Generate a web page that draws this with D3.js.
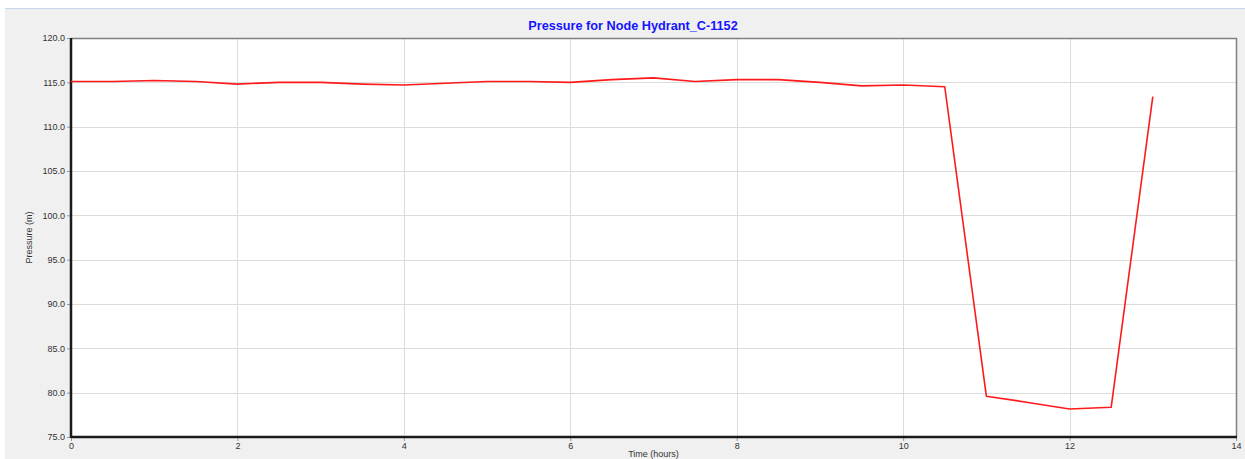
<!DOCTYPE html>
<html>
<head>
<meta charset="utf-8">
<script src="https://cdn.jsdelivr.net/npm/d3@7"></script>
<style>
  html, body { margin: 0; padding: 0; background: #ffffff; }
  svg { display: block; font-family: "Liberation Sans", Arial, sans-serif; }
</style>
</head>
<body>
<svg id="chart" width="1245" height="459"></svg>
<script>
// Hydrant pressure over the simulation period (half-hour steps)
const timeHours = [0, 0.5, 1, 1.5, 2, 2.5, 3, 3.5, 4, 4.5, 5, 5.5, 6, 6.5, 7, 7.5, 8, 8.5, 9, 9.5, 10, 10.5, 11, 11.5, 12, 12.5, 13];
const pressureM = [115.1, 115.1, 115.2, 115.1, 114.8, 115.0, 115.0, 114.8, 114.7, 114.9, 115.1, 115.1, 115.0, 115.3, 115.5, 115.1, 115.3, 115.3, 115.0, 114.6, 114.7, 114.5, 79.6, 78.9, 78.15, 78.35, 113.4];
const xTicks = [0, 2, 4, 6, 8, 10, 12, 14];
const yTicks = [75, 80, 85, 90, 95, 100, 105, 110, 115, 120];
const chartTitle = "Pressure for Node Hydrant_C-1152";
const xLabel = "Time (hours)";
const yLabel = "Pressure (m)";

const svg = d3.select("#chart");
const W = 1245, H = 459;
const plot = { left: 71, right: 1236, top: 38, bottom: 437 };

// window panel background
svg.append("rect").attr("x", 0).attr("y", 0).attr("width", W).attr("height", H).attr("fill", "#ffffff");
svg.append("rect").attr("x", 5).attr("y", 9).attr("width", W - 5).attr("height", H - 9).attr("fill", "#f0f0f0");
svg.append("line").attr("x1", 5).attr("x2", W).attr("y1", 8.5).attr("y2", 8.5)
  .attr("stroke", "#c4d8ee").attr("stroke-width", 1);

const x = d3.scaleLinear().domain([0, 14]).range([plot.left, plot.right]);
const y = d3.scaleLinear().domain([75, 120]).range([plot.bottom, plot.top]);

// plot area
svg.append("rect")
  .attr("x", plot.left).attr("y", plot.top)
  .attr("width", plot.right - plot.left).attr("height", plot.bottom - plot.top)
  .attr("fill", "#ffffff");

// grid
const grid = svg.append("g").attr("stroke", "#dcdcdc").attr("stroke-width", 1);
grid.selectAll("line.v").data(xTicks.slice(1, -1)).join("line")
  .attr("x1", d => Math.round(x(d)) + 0.5).attr("x2", d => Math.round(x(d)) + 0.5)
  .attr("y1", plot.top).attr("y2", plot.bottom);
grid.selectAll("line.h").data(yTicks.slice(1, -1)).join("line")
  .attr("y1", d => Math.round(y(d)) + 0.5).attr("y2", d => Math.round(y(d)) + 0.5)
  .attr("x1", plot.left).attr("x2", plot.right);

// frame: top and right in grey
svg.append("line").attr("x1", plot.left).attr("x2", plot.right + 1).attr("y1", plot.top + 0.5).attr("y2", plot.top + 0.5)
  .attr("stroke", "#808080").attr("stroke-width", 1.5);
svg.append("line").attr("x1", plot.right + 0.5).attr("x2", plot.right + 0.5).attr("y1", plot.top).attr("y2", plot.bottom)
  .attr("stroke", "#808080").attr("stroke-width", 1.5);

// axes
const yAxis = d3.axisLeft(y).tickValues(yTicks).tickFormat(d3.format(".1f")).tickSize(4).tickPadding(2);
const yg = svg.append("g").attr("transform", `translate(${plot.left},0)`).call(yAxis);
const xAxis = d3.axisBottom(x).tickValues(xTicks).tickFormat(d3.format("d")).tickSize(4).tickPadding(2);
const xg = svg.append("g").attr("transform", `translate(0,${plot.bottom})`).call(xAxis);
[yg, xg].forEach(g => {
  g.select(".domain").remove();
  g.selectAll(".tick line").attr("stroke", "#999999");
  g.selectAll(".tick text").attr("fill", "#333333").style("font-size", "9px")
    .style("font-family", "'Liberation Sans', Arial, sans-serif");
});
svg.append("line").attr("x1", plot.left).attr("x2", plot.left).attr("y1", plot.top).attr("y2", plot.bottom + 1)
  .attr("stroke", "#1a1a1a").attr("stroke-width", 2.5);
svg.append("line").attr("x1", plot.left).attr("x2", plot.right + 1).attr("y1", plot.bottom).attr("y2", plot.bottom)
  .attr("stroke", "#1a1a1a").attr("stroke-width", 2.5);

// pressure line
const line = d3.line().x((d, i) => x(timeHours[i])).y(d => y(d));
svg.append("path").datum(pressureM)
  .attr("d", line).attr("fill", "none")
  .attr("stroke", "#ff1a1a").attr("stroke-width", 1.6).attr("stroke-linejoin", "round");

// titles
svg.append("text").attr("x", 633).attr("y", 30).attr("text-anchor", "middle")
  .attr("fill", "#1414ff").style("font-size", "12.7px").style("font-weight", "bold")
  .text(chartTitle);
svg.append("text").attr("x", (plot.left + plot.right) / 2).attr("y", 457).attr("text-anchor", "middle")
  .attr("fill", "#333333").style("font-size", "9px").text(xLabel);
svg.append("text").attr("transform", `translate(32,${(plot.top + plot.bottom) / 2}) rotate(-90)`)
  .attr("text-anchor", "middle").attr("fill", "#333333").style("font-size", "9px").text(yLabel);
</script>
</body>
</html>
